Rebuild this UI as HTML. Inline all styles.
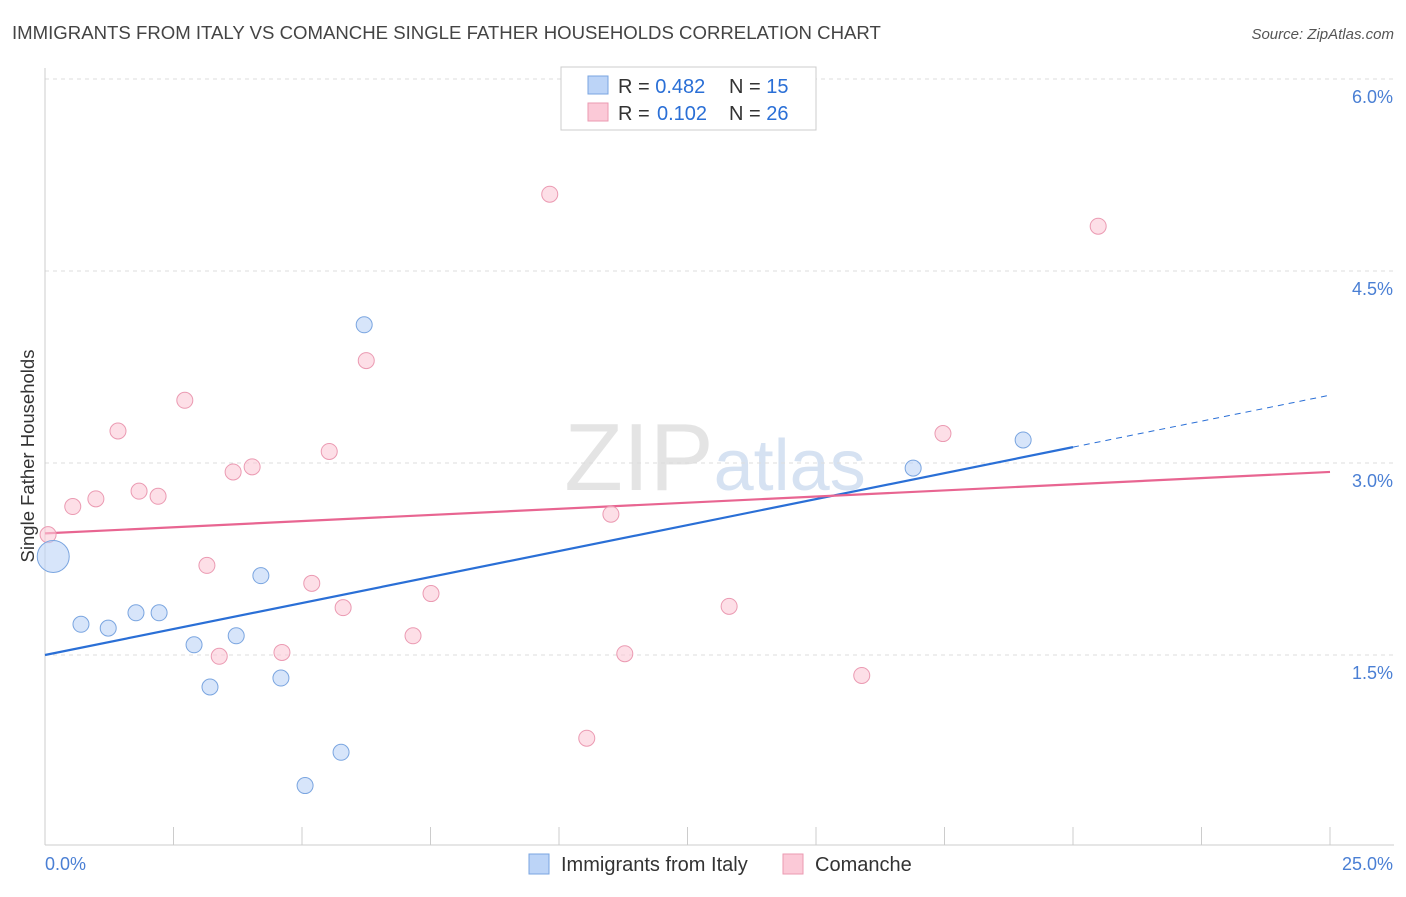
<!DOCTYPE html>
<html><head><meta charset="utf-8"><style>
body{margin:0;background:#fff;font-family:"Liberation Sans",sans-serif;}
svg text{font-family:"Liberation Sans",sans-serif;}
</style></head><body>
<svg id="chart" width="1406" height="892" xmlns="http://www.w3.org/2000/svg">
<text x="12" y="39" font-size="18.6" fill="#444">IMMIGRANTS FROM ITALY VS COMANCHE SINGLE FATHER HOUSEHOLDS CORRELATION CHART</text>
<text x="1394" y="39" font-size="15" fill="#555" text-anchor="end" font-style="italic">Source: ZipAtlas.com</text>
<text x="715" y="490" font-size="96" fill="#e4e4e4" text-anchor="middle" font-family="Liberation Serif">ZIP<tspan fill="#d6e2f2" font-family="Liberation Sans" font-size="72">atlas</tspan></text>
<g id="grid"></g>
<g id="axes"></g>
<text transform="translate(34,456) rotate(-90)" font-size="18.5" fill="#333" text-anchor="middle">Single Father Households</text>
<g id="lines"></g>
<g id="points"></g>
<g>
<rect x="561" y="67" width="255" height="63" fill="#fff" stroke="#ccc"/>
<rect x="588" y="76" width="20" height="18" fill="#bcd4f7" stroke="#7aa5e0"/>
<rect x="588" y="103" width="20" height="18" fill="#fbc9d7" stroke="#eb9ab2"/>
<text x="618" y="93" font-size="20" fill="#333">R = <tspan fill="#2a6fd6">0.482</tspan><tspan x="729">N = </tspan><tspan fill="#2a6fd6">15</tspan></text>
<text x="618" y="120" font-size="20" fill="#333">R = <tspan fill="#2a6fd6" x="657">0.102</tspan><tspan x="729">N = </tspan><tspan fill="#2a6fd6">26</tspan></text>
</g>
<g>
<rect x="529" y="854" width="20" height="20" fill="#bcd4f7" stroke="#7aa5e0"/>
<text x="561" y="871" font-size="20" fill="#333">Immigrants from Italy</text>
<rect x="783" y="854" width="20" height="20" fill="#fbc9d7" stroke="#eb9ab2"/>
<text x="815" y="871" font-size="20" fill="#333">Comanche</text>
</g>
</svg>
<script>
const xTicks=[0,2.5,5,7.5,10,12.5,15,17.5,20,22.5,25];
const yTicks=[1.5,3.0,4.5,6.0];
const yTickLabels=["1.5%","3.0%","4.5%","6.0%"];
const italyX=[0.16,0.70,1.23,1.77,2.22,2.90,3.21,3.72,4.20,4.59,5.06,5.76,6.21,16.89,19.03];
const italyY=[2.27,1.74,1.71,1.83,1.83,1.58,1.25,1.65,2.12,1.32,0.48,0.74,4.08,2.96,3.18];
const comX=[0.06,0.54,0.99,1.42,1.83,2.20,2.72,3.15,3.39,3.66,4.03,4.61,5.19,5.53,5.80,6.25,7.16,7.51,9.82,10.54,11.01,11.28,13.31,15.89,17.47,20.49];
const comY=[2.44,2.66,2.72,3.25,2.78,2.74,3.49,2.20,1.49,2.93,2.97,1.52,2.06,3.09,1.87,3.80,1.65,1.98,5.10,0.85,2.60,1.51,1.88,1.34,3.23,4.85];
const italyTrend=[1.50,3.53];
const comTrend=[2.45,2.93];
const NS="http://www.w3.org/2000/svg";
const X=v=>45+v*51.4, Y=v=>847-v*128;
function mk(t,a,p){const e=document.createElementNS(NS,t);for(const k in a)e.setAttribute(k,a[k]);document.getElementById(p).appendChild(e);return e;}
yTicks.forEach((t,i)=>{
 const g=mk('line',{x1:45,x2:1394,y1:Y(t),y2:Y(t),stroke:'#ddd','stroke-dasharray':'4,4'},'grid');
 
 
 const l=mk('text',{x:1393,y:Y(t)+24,'font-size':18,fill:'#4a7fd4','text-anchor':'end'},'axes');
 l.textContent=yTickLabels[i];
 
 
});
const ax=mk('line',{x1:45,x2:45,y1:68,y2:845,stroke:'#ccc'},'axes');


const bx=mk('line',{x1:45,x2:1394,y1:845,y2:845,stroke:'#ccc'},'axes');


xTicks.forEach(t=>{
 const e=mk('line',{x1:X(t),x2:X(t),y1:827,y2:845,stroke:'#ccc'},'axes');
 
 
});
const l0=mk('text',{x:45,y:870,'font-size':18,fill:'#4a7fd4'},'axes');l0.textContent=xTicks[0].toFixed(1)+'%';


const l1=mk('text',{x:1393,y:870,'font-size':18,fill:'#4a7fd4','text-anchor':'end'},'axes');l1.textContent=xTicks[xTicks.length-1].toFixed(1)+'%';


const bs=italyTrend[0],be=italyTrend[1],f=v=>bs+(be-bs)*v/25;
const t1=mk('line',{x1:X(0),y1:Y(f(0)),x2:X(20),y2:Y(f(20)),stroke:'#2a6fd6','stroke-width':2.2},'lines');


const t2=mk('line',{x1:X(20),y1:Y(f(20)),x2:X(25),y2:Y(f(25)),stroke:'#2a6fd6','stroke-width':1,'stroke-dasharray':'6,5'},'lines');


const t3=mk('line',{x1:X(0),y1:Y(comTrend[0]),x2:X(25),y2:Y(comTrend[1]),stroke:'#e86591','stroke-width':2.2},'lines');


comX.forEach((x,i)=>{
 const c=mk('circle',{cx:X(x),cy:Y(comY[i]),r:8,fill:'#fbc9d7','fill-opacity':0.6,stroke:'#eb9ab2'},'points');
 
 
});
italyX.forEach((x,i)=>{
 const c=mk('circle',{cx:X(x),cy:Y(italyY[i]),r:i===0?16:8,fill:'#bcd4f7','fill-opacity':0.6,stroke:'#7aa5e0'},'points');
 
 
});
</script>
</body></html>
